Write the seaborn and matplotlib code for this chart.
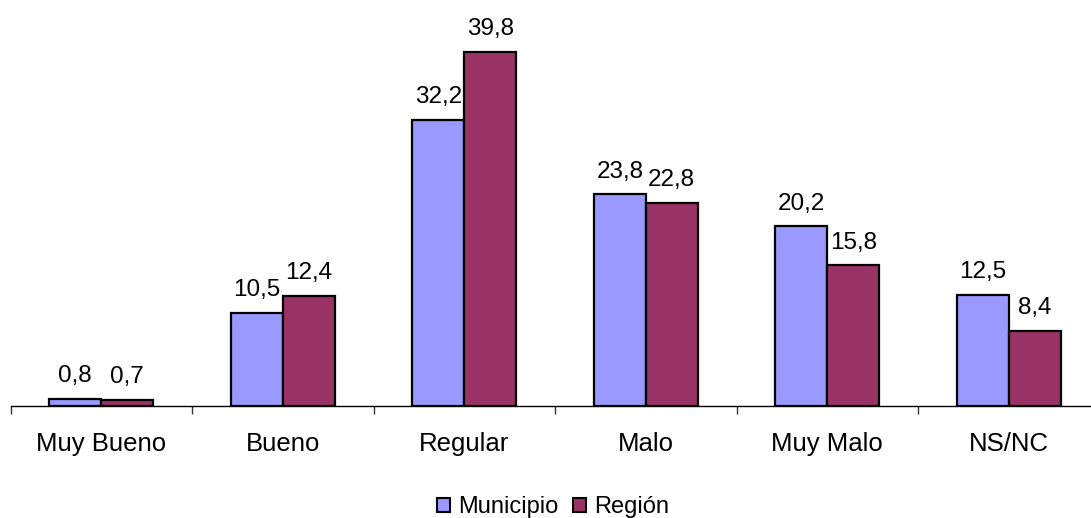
# Bar chart: Municipio vs Región

import pandas as pd
import seaborn as sns
import matplotlib.pyplot as plt
from matplotlib.patches import Patch

categorias = ["Muy Bueno", "Bueno", "Regular", "Malo", "Muy Malo", "NS/NC"]
municipio = [0.8, 10.5, 32.2, 23.8, 20.2, 12.5]
region = [0.7, 12.4, 39.8, 22.8, 15.8, 8.4]
series = ["Municipio", "Región"]
colores = ["#9999FF", "#993366"]

df = pd.DataFrame({
    "categoria": categorias * 2,
    "valor": municipio + region,
    "serie": [series[0]] * len(categorias) + [series[1]] * len(categorias),
})

sns.set_style("white")
plt.rcParams["font.family"] = ["Liberation Sans", "DejaVu Sans"]
plt.rcParams["text.color"] = "black"
plt.rcParams["xtick.color"] = "black"

W, H = 1091, 518
fig = plt.figure(figsize=(W / 100, H / 100), dpi=100)
# axis runs off the right edge like in the original
ax = fig.add_axes([10.5 / W, 112 / H, 1089 / W, 406 / H])

sns.barplot(data=df, x="categoria", y="valor", hue="serie", palette=colores,
            width=0.573, edgecolor="black", linewidth=1.6, saturation=1,
            legend=False, ax=ax)

for cont in ax.containers:
    ax.bar_label(cont, labels=[f"{v:.1f}".replace(".", ",") for v in cont.datavalues],
                 padding=8.5, fontsize=17.5, color="black")

ax.set_xlim(-0.5, 5.5)
ax.set_ylim(0, 45.65)
ax.set_xlabel("")
ax.set_ylabel("")
ax.set_yticks([])
for s in ["top", "right", "left"]:
    ax.spines[s].set_visible(False)
ax.spines["bottom"].set_color("black")
ax.spines["bottom"].set_linewidth(1.0)

ax.set_xticks(range(len(categorias)))
ax.set_xticklabels(categorias, fontsize=18.5, color="black")
ax.set_xticks([i - 0.5 for i in range(len(categorias) + 1)], minor=True)
ax.tick_params(axis="x", which="major", length=0, pad=19)
ax.tick_params(axis="x", which="minor", length=6, width=1, color="#333333", direction="out", bottom=True)

handles = [Patch(facecolor=c, edgecolor="black", linewidth=1.5) for c in colores]
fig.legend(handles, series, loc="lower center", bbox_to_anchor=(553 / W, 0),
           ncol=2, frameon=False, fontsize=17, handlelength=0.55, handleheight=0.55,
           handletextpad=0.35, columnspacing=0.6, borderpad=0, borderaxespad=0)

plt.savefig("out.png", dpi=100)
